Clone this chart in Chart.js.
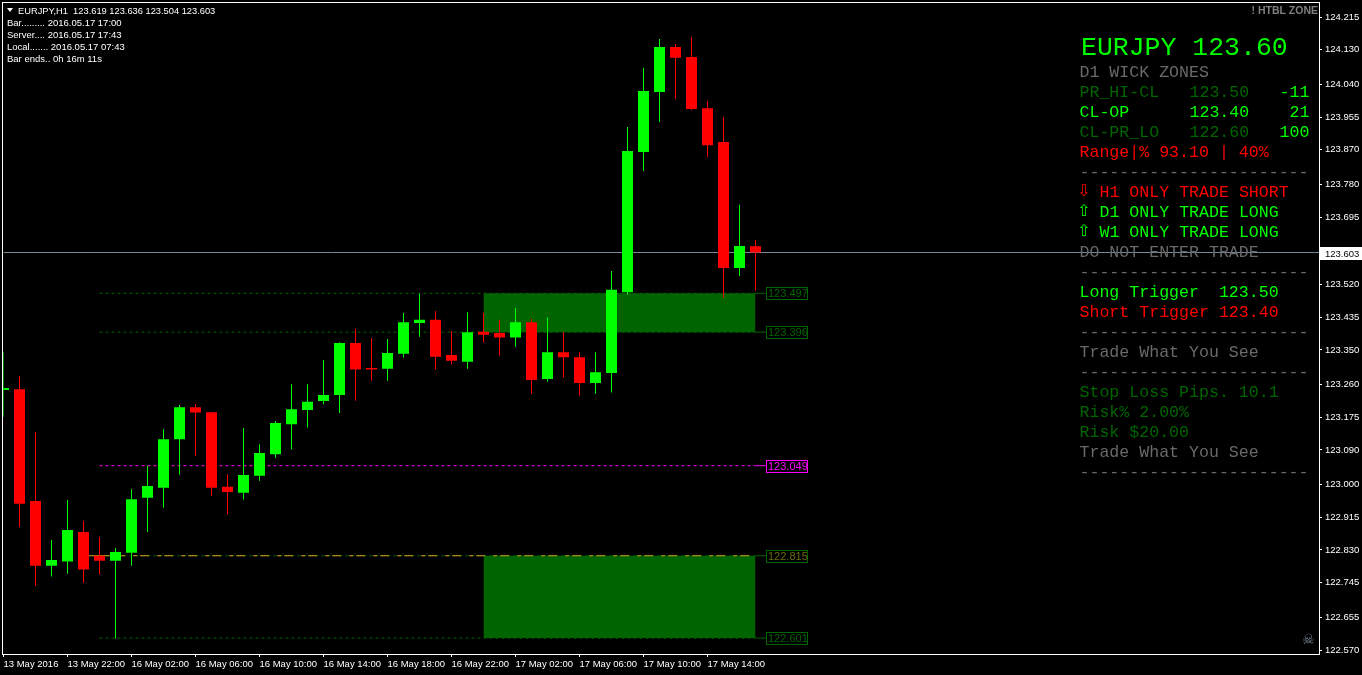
<!DOCTYPE html>
<html>
<head>
<meta charset="utf-8">
<title>EURJPY H1</title>
<script src="https://cdn.jsdelivr.net/npm/chart.js@4"></script>
<style>
    html, body { margin: 0; padding: 0; background: #000; overflow: hidden; }
    canvas { display: block; }
</style>
</head>
<body>
<canvas id="candleChart" width="1362" height="675"></canvas>
<script>
// EURJPY H1 prices, one entry per hourly bar
const opens = [123.246, 123.248, 122.957, 122.789, 122.800, 122.877, 122.815, 122.802, 122.823, 122.966,
    122.992, 123.118, 123.201, 123.188, 122.994, 122.979, 123.023, 123.079, 123.157, 123.194,
    123.217, 123.233, 123.368, 123.303, 123.301, 123.340, 123.420, 123.428, 123.337, 123.319,
    123.397, 123.394, 123.382, 123.422, 123.274, 123.344, 123.331, 123.264, 123.290, 123.500,
    123.864, 124.020, 124.137, 124.111, 123.978, 123.890, 123.563, 123.619];
const highs = [123.344, 123.282, 123.137, 122.856, 122.960, 122.905, 122.864, 122.835, 122.988, 123.049,
    123.144, 123.207, 123.210, 123.188, 123.027, 123.147, 123.105, 123.165, 123.261, 123.261,
    123.324, 123.370, 123.404, 123.381, 123.378, 123.446, 123.496, 123.451, 123.399, 123.448,
    123.446, 123.428, 123.459, 123.430, 123.435, 123.397, 123.344, 123.344, 123.555, 123.929,
    124.083, 124.158, 124.145, 124.163, 123.997, 123.955, 123.727, 123.636];
const lows = [123.176, 122.890, 122.737, 122.761, 122.768, 122.745, 122.766, 122.600, 122.789, 122.877,
    122.940, 123.026, 123.075, 122.971, 122.922, 122.961, 123.010, 123.069, 123.091, 123.148,
    123.209, 123.186, 123.218, 123.270, 123.270, 123.330, 123.384, 123.299, 123.312, 123.301,
    123.369, 123.335, 123.358, 123.236, 123.267, 123.278, 123.231, 123.236, 123.239, 123.493,
    123.815, 123.942, 124.002, 123.973, 123.851, 123.486, 123.542, 123.504];
const closes = [123.251, 122.950, 122.789, 122.804, 122.882, 122.779, 122.802, 122.825, 122.962, 122.996,
    123.118, 123.201, 123.187, 122.992, 122.981, 123.025, 123.082, 123.160, 123.196, 123.215,
    123.233, 123.368, 123.299, 123.299, 123.342, 123.422, 123.428, 123.332, 123.322, 123.396,
    123.389, 123.382, 123.422, 123.272, 123.344, 123.331, 123.264, 123.292, 123.506, 123.867,
    124.023, 124.137, 124.109, 123.976, 123.882, 123.563, 123.620, 123.603];

const priceTicks = [124.215, 124.130, 124.040, 123.955, 123.870, 123.780, 123.695, 123.520, 123.435, 123.350,
    123.260, 123.175, 123.090, 123.000, 122.915, 122.830, 122.745, 122.655, 122.570];
const timeTickBars = [0, 4, 8, 12, 16, 20, 24, 28, 32, 36, 40, 44];
const timeLabels = ['13 May 2016', '13 May 22:00', '16 May 02:00', '16 May 06:00', '16 May 10:00', '16 May 14:00',
    '16 May 18:00', '16 May 22:00', '17 May 02:00', '17 May 06:00', '17 May 10:00', '17 May 14:00'];

const bidPrice = 123.603;
const upperZone = [123.497, 123.396];
const lowerZone = [122.815, 122.601];
const midLevel = 123.049;
const levelStartBar = 6;
const zoneStartBar = 30;
const zoneEndBar = 47;
const labelBar = 47.65;
const lastAxisBar = 82.21875;

const UP = '#00ff00';
const DOWN = '#ff0000';
const ZONE = '#006400';
const MAGENTA = '#ff00ff';
const GOLD = '#daa520';
const GREY = '#696969';
const SANS = '"Liberation Sans"';
const MONO = '"Liberation Mono"';

function candleColor(ctx) {
    return closes[ctx.dataIndex] >= opens[ctx.dataIndex] ? UP : DOWN;
}

function levelLine(price, color, startBar, order) {
    return {
        type: 'line', data: [{x: startBar, y: price}, {x: zoneEndBar, y: price}, {x: labelBar, y: price}],
        borderColor: color, borderWidth: 1, pointRadius: 0, order: order,
        segment: { borderDash: c => c.p0DataIndex === 0 ? [3, 3] : [] }
    };
}

function zoneEdge(price, fill) {
    return {
        type: 'line', data: [{x: zoneStartBar, y: price}, {x: zoneEndBar, y: price}],
        borderWidth: 0, pointRadius: 0, backgroundColor: ZONE, fill: fill, order: 20
    };
}

const datasets = [
    zoneEdge(upperZone[0], '+1'),
    zoneEdge(upperZone[1], false),
    zoneEdge(lowerZone[0], '+1'),
    zoneEdge(lowerZone[1], false),
    levelLine(upperZone[0], ZONE, levelStartBar, 10),
    levelLine(upperZone[1], ZONE, levelStartBar, 10),
    levelLine(midLevel, MAGENTA, levelStartBar, 10),
    levelLine(lowerZone[1], ZONE, levelStartBar, 10),
    levelLine(lowerZone[0], ZONE, levelStartBar, 10),
    {
        // duong vang chen len duong xanh o muc 122.815
        type: 'line', data: [{x: 5, y: lowerZone[0]}, {x: 6.6, y: lowerZone[0]}, {x: zoneEndBar, y: lowerZone[0]}],
        borderColor: GOLD, borderWidth: 1, pointRadius: 0, order: 9,
        segment: { borderDash: c => c.p0DataIndex === 0 ? [] : [4, 3, 9, 8] }
    },
    {
        type: 'line', data: [{x: 0, y: bidPrice}, {x: lastAxisBar, y: bidPrice}],
        borderColor: '#778899', borderWidth: 1, pointRadius: 0, order: 8
    },
    {
        label: 'wick', data: opens.map((o, i) => ({x: i, y: [lows[i], highs[i]]})),
        backgroundColor: candleColor, barThickness: 1, inflateAmount: 0, grouped: false, order: 3
    },
    {
        label: 'body', data: opens.map((o, i) => ({x: i, y: [o, closes[i]]})),
        backgroundColor: candleColor, barThickness: 11, inflateAmount: 0, grouped: false, order: 2
    }
];

// bang thong tin ben phai: [text, x, y tam dong, mau]
const panelRows = [
    ['D1 WICK ZONES', 1079.5, 73, GREY],
    ['PR_HI-CL', 1079.5, 93, ZONE], ['123.50', 1189.5, 93, ZONE], ['-11', 1279.5, 93, UP],
    ['CL-OP', 1079.5, 113, UP], ['123.40', 1189.5, 113, UP], ['21', 1289.5, 113, UP],
    ['CL-PR_LO', 1079.5, 133, ZONE], ['122.60', 1189.5, 133, ZONE], ['100', 1279.5, 133, UP],
    ['Range|% 93.10 | 40%', 1079.5, 153, DOWN],
    ['-----------------------', 1079.5, 173, GREY],
    ['H1 ONLY TRADE SHORT', 1099.5, 193, DOWN],
    ['D1 ONLY TRADE LONG', 1099.5, 213, UP],
    ['W1 ONLY TRADE LONG', 1099.5, 233, UP],
    ['DO NOT ENTER TRADE', 1079.5, 253, GREY],
    ['-----------------------', 1079.5, 273, GREY],
    ['Long Trigger  123.50', 1079.5, 293, UP],
    ['Short Trigger 123.40', 1079.5, 313, DOWN],
    ['-----------------------', 1079.5, 333, GREY],
    ['Trade What You See', 1079.5, 353, GREY],
    ['-----------------------', 1079.5, 373, GREY],
    ['Stop Loss Pips. 10.1', 1079.5, 393, ZONE],
    ['Risk% 2.00%', 1079.5, 413, ZONE],
    ['Risk $20.00', 1079.5, 433, ZONE],
    ['Trade What You See', 1079.5, 453, GREY],
    ['-----------------------', 1079.5, 473, GREY]
];

const infoRows = [
    ['Bar......... 2016.05.17 17:00', 23],
    ['Server.... 2016.05.17 17:43', 35],
    ['Local....... 2016.05.17 07:43', 47],
    ['Bar ends.. 0h 16m 11s', 59]
];

function drawText(ctx, text, x, y, font, color, align) {
    ctx.font = font;
    ctx.fillStyle = color;
    ctx.textAlign = align || 'left';
    ctx.textBaseline = 'middle';
    ctx.fillText(text, x, y);
}

function drawLevelBox(chart, price, color, textColor) {
    const ctx = chart.ctx;
    const y = Math.round(chart.scales.y.getPixelForValue(price)) + 0.5;
    ctx.strokeStyle = color;
    ctx.lineWidth = 1;
    ctx.strokeRect(766.5, y - 6, 41, 12);
    drawText(ctx, price.toFixed(3), 768, y + 0.5, '11px ' + SANS, textColor);
}

const overlayPlugin = {
    id: 'overlay',
    afterDraw(chart) {
        const ctx = chart.ctx;
        ctx.save();
        // khung vien bieu do
        ctx.strokeStyle = '#ffffff';
        ctx.lineWidth = 1;
        ctx.strokeRect(2.5, 2.5, 1317, 652);

        // gia hien tai tren truc
        const bidY = Math.round(chart.scales.y.getPixelForValue(bidPrice));
        ctx.fillStyle = '#ffffff';
        ctx.fillRect(1320, bidY - 6, 42, 13);
        drawText(ctx, bidPrice.toFixed(3), 1325, bidY + 1, '9.5px ' + SANS, '#000000');

        drawLevelBox(chart, upperZone[0], ZONE, ZONE);
        drawLevelBox(chart, upperZone[1], ZONE, ZONE);
        drawLevelBox(chart, midLevel, MAGENTA, MAGENTA);
        drawLevelBox(chart, lowerZone[0], ZONE, '#6b6b10');
        drawLevelBox(chart, lowerZone[1], ZONE, ZONE);

        // chu goc tren ben trai
        ctx.fillStyle = '#ffffff';
        ctx.beginPath();
        ctx.moveTo(7, 8);
        ctx.lineTo(13, 8);
        ctx.lineTo(10, 12);
        ctx.closePath();
        ctx.fill();
        drawText(ctx, 'EURJPY,H1  123.619 123.636 123.504 123.603', 18, 11, '9.3px ' + SANS, '#ffffff');
        infoRows.forEach(r => drawText(ctx, r[0], 7, r[1], '9.5px ' + SANS, '#ffffff'));

        drawText(ctx, '! HTBL ZONE', 1318, 11, 'bold 10.5px ' + SANS, '#808080', 'right');
        drawText(ctx, 'EURJPY 123.60', 1081, 48, '26.5px ' + MONO, UP);
        panelRows.forEach(r => drawText(ctx, r[0], r[1], r[2], '16.6px ' + MONO, r[3]));
        drawText(ctx, '\u21E9', 1077, 192, '16px "DejaVu Sans"', DOWN);
        drawText(ctx, '\u21E7', 1077, 212, '16px "DejaVu Sans"', UP);
        drawText(ctx, '\u21E7', 1077, 232, '16px "DejaVu Sans"', UP);
        drawText(ctx, '\u2620', 1302, 640, '14px "DejaVu Sans"', '#778899');
        ctx.restore();
    }
};

new Chart(document.getElementById('candleChart'), {
    type: 'bar',
    data: { datasets: datasets },
    plugins: [overlayPlugin],
    options: {
        responsive: false,
        animation: false,
        events: [],
        layout: { autoPadding: false, padding: { left: 3.5, top: 3, right: 0, bottom: 0 } },
        plugins: { legend: { display: false }, tooltip: { enabled: false }, title: { display: false } },
        scales: {
            x: {
                type: 'linear', min: 0, max: lastAxisBar, offset: false,
                afterBuildTicks: s => { s.ticks = timeTickBars.map(v => ({value: v})); },
                afterFit: s => { s.height = 21; },
                ticks: {
                    callback: v => timeLabels[timeTickBars.indexOf(v)],
                    align: 'start', autoSkip: false, maxRotation: 0, minRotation: 0,
                    color: '#ffffff', font: { family: SANS, size: 9.5 }, padding: 2
                },
                grid: { offset: false, drawOnChartArea: false, color: '#ffffff', tickLength: 3 },
                border: { display: false }
            },
            y: {
                type: 'linear', position: 'right', min: 122.5597, max: 124.2514,
                afterBuildTicks: s => { s.ticks = priceTicks.map(v => ({value: v})); },
                afterFit: s => { s.width = 43; s.paddingTop = 0; s.paddingBottom = 0; },
                ticks: {
                    callback: v => v.toFixed(3), autoSkip: false,
                    color: '#ffffff', font: { family: SANS, size: 9.5 }, padding: 3
                },
                grid: { drawOnChartArea: false, color: '#ffffff', tickLength: 3 },
                border: { display: false }
            }
        }
    }
});
</script>
</body>
</html>
